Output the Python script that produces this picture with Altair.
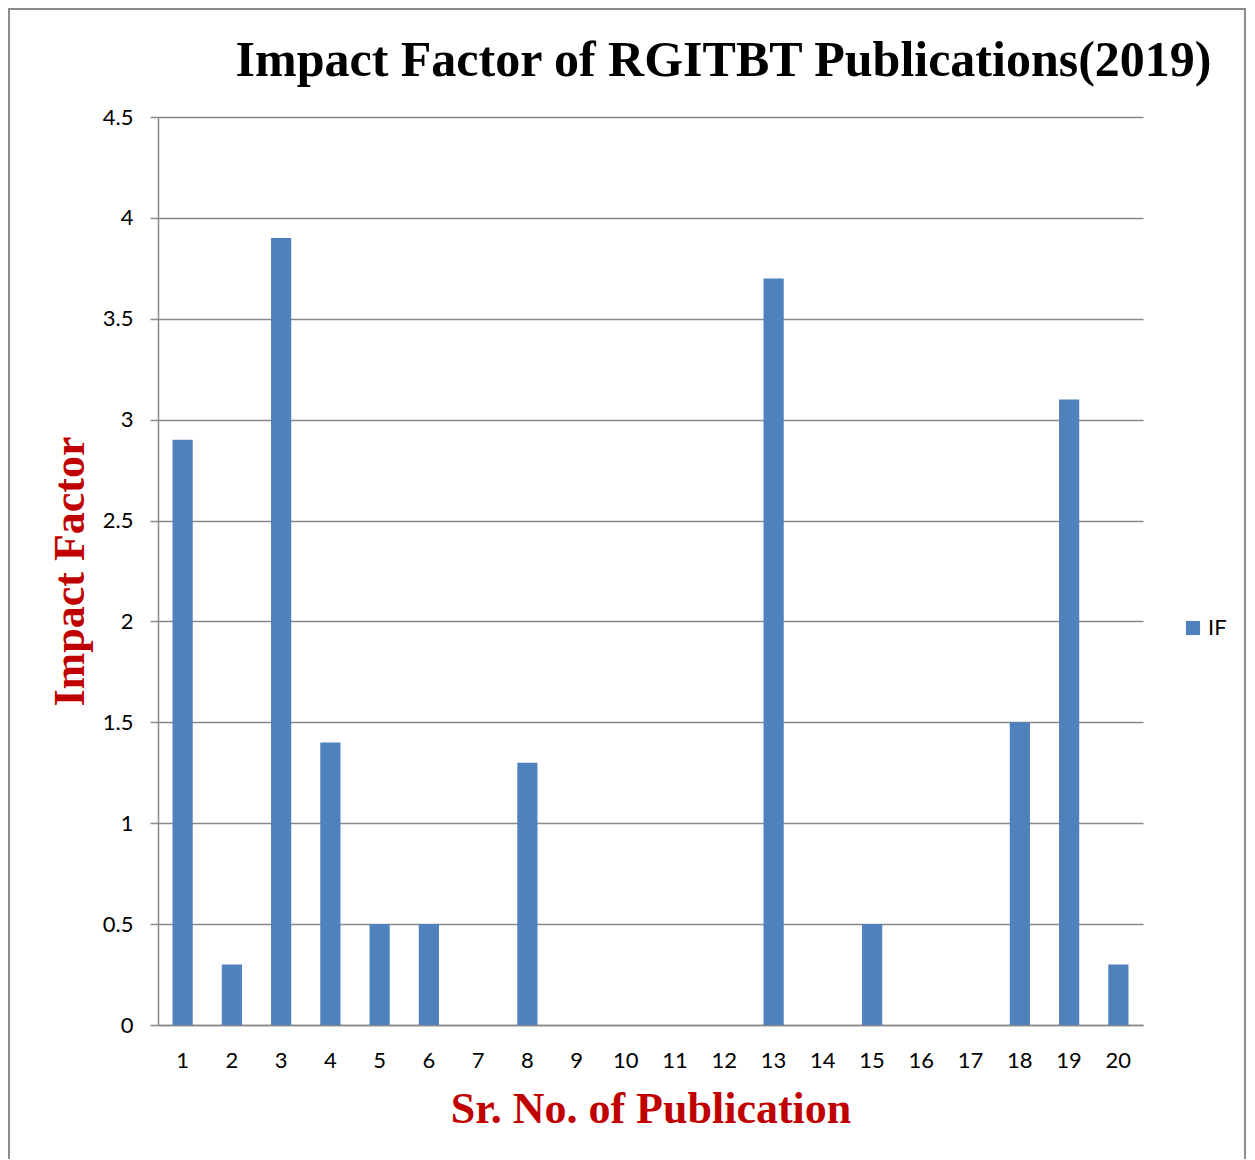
import altair as alt
import pandas as pd

pubs = ["1", "2", "3", "4", "5", "6", "7", "8", "9", "10",
        "11", "12", "13", "14", "15", "16", "17", "18", "19", "20"]
impact = [2.9, 0.3, 3.9, 1.4, 0.5, 0.5, 0, 1.3, 0, 0,
          0, 0, 3.7, 0, 0.5, 0, 0, 1.5, 3.1, 0.3]
series = ["IF"] * len(pubs)
y_ticks = [0, 0.5, 1, 1.5, 2, 2.5, 3, 3.5, 4, 4.5]

df = pd.DataFrame({"pub": pubs, "impact": impact, "series": series})

W, H = 985, 908
GRID = "#898989"
RED = "#C00000"
SERIF = "Liberation Serif"
SANS = "Lato"

bars = alt.Chart(df).mark_bar(color="#4F81BD").encode(
    x=alt.X("pub:O", sort=pubs,
            scale=alt.Scale(paddingInner=0.59, paddingOuter=0.295),
            axis=alt.Axis(title="Sr. No. of Publication", labelAngle=0,
                          ticks=False, tickSize=0, labelPadding=25,
                          labelFont=SANS, labelFontSize=22, labelColor="#000000",
                          domainColor=GRID, domainWidth=1.5,
                          titleFont=SERIF, titleFontSize=44, titleFontWeight="bold",
                          titleColor=RED, titlePadding=16, grid=False)),
    y=alt.Y("impact:Q", scale=alt.Scale(domain=[0, 4.5], nice=False),
            axis=alt.Axis(title="Impact Factor", values=y_ticks, format=".1~f",
                          tickSize=8, tickColor=GRID, tickWidth=1.5,
                          labelPadding=17, labelFont=SANS, labelFontSize=22,
                          labelColor="#000000",
                          domainColor=GRID, domainWidth=1.5,
                          grid=True, gridColor=GRID, gridWidth=1.5,
                          titleFont=SERIF, titleFontSize=44, titleFontWeight="bold",
                          titleColor=RED, titlePadding=10)),
    color=alt.Color("series:N", scale=alt.Scale(range=["#4F81BD"]),
                    legend=alt.Legend(title=None, orient="none",
                                      legendX=1024, legendY=500,
                                      symbolType="square", symbolSize=200,
                                      symbolStrokeWidth=0,
                                      labelFont=SANS, labelFontSize=22,
                                      labelColor="#000000")),
)

frame_src = pd.DataFrame({"b": [0]})
BORDER = "#8c8c8c"
border_left = alt.Chart(frame_src).mark_rule(color=BORDER, strokeWidth=2).encode(
    x=alt.value(-149), y=alt.value(-108), y2=alt.value(1100))
border_right = alt.Chart(frame_src).mark_rule(color=BORDER, strokeWidth=2).encode(
    x=alt.value(1087), y=alt.value(-108), y2=alt.value(1100))
border_top = alt.Chart(frame_src).mark_rule(color=BORDER, strokeWidth=2).encode(
    x=alt.value(-150), x2=alt.value(1088), y=alt.value(-108))

chart = alt.layer(border_left, border_right, border_top, bars).properties(
    width=W, height=H,
    title=alt.TitleParams(
        "Impact Factor of RGITBT Publications(2019)",
        font=SERIF, fontSize=50, fontWeight="bold", color="#000000",
        anchor="middle", frame="group", dx=73, offset=-78,
    ),
    autosize=alt.AutoSizeParams(type="none"),
    padding={"left": 150, "top": 109, "right": 104, "bottom": 134},
).configure_view(stroke=None)

chart.save("out.html", embed_options={"renderer": "svg", "actions": False})
